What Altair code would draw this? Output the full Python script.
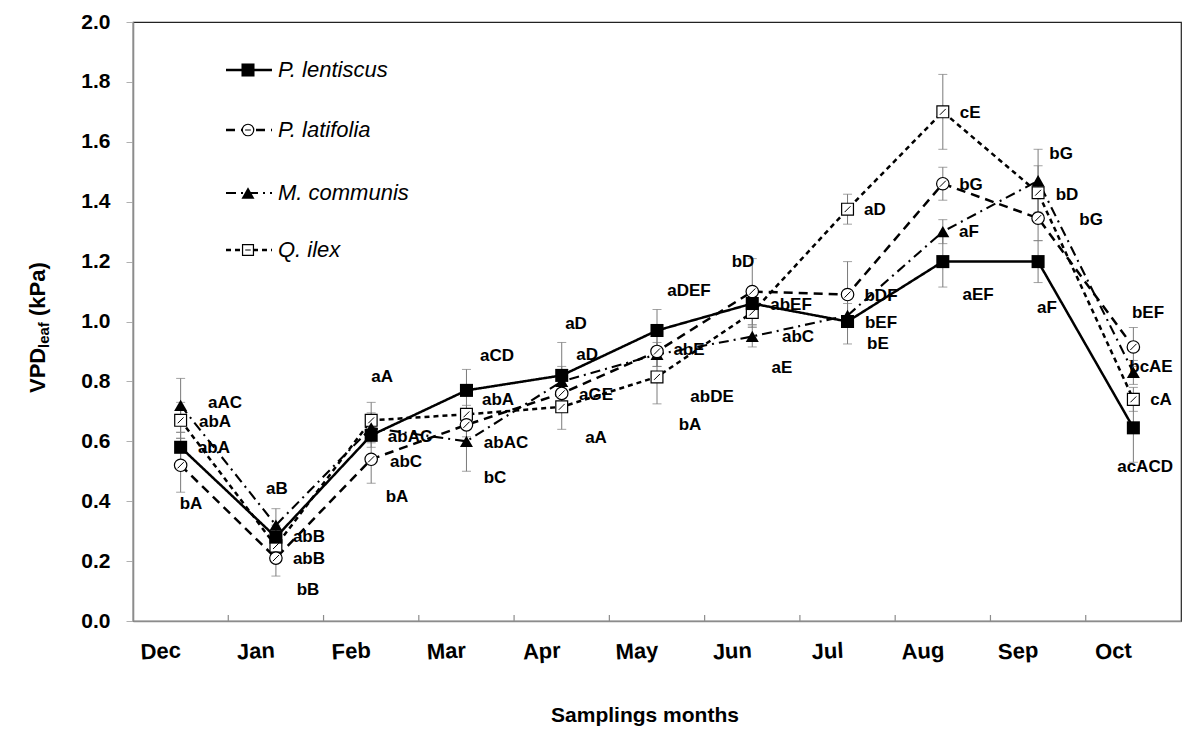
import altair as alt
import pandas as pd

# ---------------- data ----------------
months = ["Dec", "Jan", "Feb", "Mar", "Apr", "May", "Jun", "Jul", "Aug", "Sep", "Oct"]
series_names = ["P. lentiscus", "P. latifolia", "M. communis", "Q. ilex"]

lentiscus = [0.58, 0.28, 0.62, 0.77, 0.82, 0.97, 1.06, 1.00, 1.20, 1.20, 0.645]
latifolia = [0.52, 0.21, 0.54, 0.655, 0.76, 0.90, 1.10, 1.09, 1.46, 1.345, 0.915]
communis = [0.72, 0.32, 0.645, 0.60, 0.80, 0.89, 0.95, 1.02, 1.30, 1.47, 0.83]
ilex = [0.67, 0.25, 0.67, 0.69, 0.715, 0.815, 1.03, 1.375, 1.70, 1.43, 0.74]

lentiscus_err = [0.05, 0.04, 0.04, 0.07, 0.11, 0.07, 0.04, 0.075, 0.085, 0.07, 0.115]
latifolia_err = [0.09, 0.06, 0.08, 0.04, 0.05, 0.05, 0.11, 0.11, 0.055, 0.075, 0.065]
communis_err = [0.09, 0.055, 0.05, 0.10, 0.05, 0.04, 0.035, 0.04, 0.04, 0.105, 0.04]
ilex_err = [0.06, 0.04, 0.06, 0.03, 0.075, 0.09, 0.05, 0.05, 0.125, 0.09, 0.04]

# significance letters: text, x position (month index units), y value
label_text = [
    "aAC", "abA", "abA", "bA",
    "aB", "abB", "abB", "bB",
    "aA", "abAC", "abC", "bA",
    "aCD", "abA", "abAC", "bC",
    "aD", "aD", "aGE", "aA",
    "aDEF", "abE", "abDE", "bA",
    "bD", "abEF", "abC", "aE",
    "aD", "bDF", "bEF", "bE",
    "cE", "bG", "aF", "aEF",
    "bG", "bD", "bG", "aF",
    "bEF", "bcAE", "cA", "acACD",
]
label_x = [
    0.466, 0.361, 0.350, 0.109,
    1.011, 1.347, 1.347, 1.337,
    2.114, 2.408, 2.366, 2.271,
    3.321, 3.331, 3.415, 3.300,
    4.150, 4.266, 4.360, 4.360,
    5.336, 5.336, 5.578, 5.347,
    5.903, 6.407, 6.480, 6.312,
    7.288, 7.351, 7.351, 7.319,
    8.286, 8.296, 8.275, 8.370,
    9.241, 9.304, 9.556, 9.094,
    10.154, 10.185, 10.290, 10.123,
]
label_y = [
    0.728, 0.664, 0.578, 0.391,
    0.441, 0.280, 0.207, 0.104,
    0.815, 0.614, 0.531, 0.414,
    0.885, 0.738, 0.594, 0.477,
    0.992, 0.888, 0.755, 0.611,
    1.102, 0.905, 0.748, 0.654,
    1.199, 1.055, 0.948, 0.845,
    1.372, 1.085, 0.995, 0.925,
    1.696, 1.456, 1.299, 1.088,
    1.559, 1.422, 1.339, 1.045,
    1.028, 0.848, 0.738, 0.514,
]

y_ticks = [0.0, 0.2, 0.4, 0.6, 0.8, 1.0, 1.2, 1.4, 1.6, 1.8, 2.0]

# ---------------- build tables ----------------
series_vals = [lentiscus, latifolia, communis, ilex]
series_errs = [lentiscus_err, latifolia_err, communis_err, ilex_err]

frames = []
for name, vals, errs in zip(series_names, series_vals, series_errs):
    frames.append(pd.DataFrame({
        "series": name,
        "month": months,
        "pos": list(range(len(months))),
        "value": vals,
        "lo": [v - e for v, e in zip(vals, errs)],
        "hi": [v + e for v, e in zip(vals, errs)],
    }))
labels_df = pd.DataFrame({"text": label_text, "lx": label_x, "ly": label_y})
bounds_df = pd.DataFrame({"b": [i + 0.5 for i in range(len(months) - 1)]})

# ---------------- styling ----------------
FONT = "Liberation Sans"
W, H = 1048, 599
AXIS_GRAY = "#8c8c8c"

styles = {
    "P. lentiscus": dict(dash=[1, 0], shape="square", filled=True, size=170, width=2.5),
    "P. latifolia": dict(dash=[9, 6], shape="circle", filled=False, size=155, width=2.5),
    "M. communis": dict(dash=[10, 5, 2, 5], shape="triangle-up", filled=True, size=170, width=2.1),
    "Q. ilex": dict(dash=[5, 4], shape="square", filled=False, size=140, width=2.5),
}

month_js = "[" + ",".join("'" + m + "'" for m in months) + "]"
xscale = alt.Scale(domain=[-0.5, len(months) - 0.5], nice=False, zero=False)
yscale = alt.Scale(domain=[0, 2], nice=False)

xaxis = alt.Axis(
    values=list(range(len(months))), labelExpr=month_js + "[datum.value]",
    labelOffset=-21, tickSize=0, domainColor=AXIS_GRAY, domainWidth=1.6,
    labelFont=FONT, labelFontSize=22, labelFontWeight="bold", labelColor="black",
    labelPadding=20, labelAngle=-3, labelAlign="center", labelBaseline="top",
    grid=False, title=None,
)
yaxis = alt.Axis(
    values=y_ticks, format=".1f", tickSize=7, tickColor="#b0b0b0", tickWidth=1,
    domainColor=AXIS_GRAY, domainWidth=1.6, labelFont=FONT, labelFontSize=21,
    labelFontWeight="bold", labelColor="black", labelPadding=16, grid=False, title=None,
)

X = alt.X("pos:Q", scale=xscale, axis=xaxis)

layers = []

# inward x-axis ticks at category boundaries
layers.append(
    alt.Chart(bounds_df).mark_rule(color=AXIS_GRAY, strokeWidth=1.2).encode(
        x=alt.X("b:Q", scale=xscale, axis=xaxis),
        y=alt.value(H - 6), y2=alt.value(H),
    )
)

# error bars
for df in frames:
    base = alt.Chart(df)
    layers.append(base.mark_rule(color="#7a7a7a", strokeWidth=1).encode(
        x=X, y=alt.Y("lo:Q", scale=yscale, axis=yaxis), y2="hi:Q"))
    for col in ["lo", "hi"]:
        layers.append(base.mark_tick(color="#7a7a7a", orient="horizontal", size=9, thickness=1).encode(
            x=X, y=alt.Y(col + ":Q", scale=yscale, axis=yaxis)))

# lines
draw_order = ["Q. ilex", "M. communis", "P. latifolia", "P. lentiscus"]
for name in draw_order:
    df = frames[series_names.index(name)]
    st = styles[name]
    layers.append(alt.Chart(df).mark_line(color="black", strokeWidth=st["width"], strokeDash=st["dash"]).encode(
        x=X, y=alt.Y("value:Q", scale=yscale, axis=yaxis), order="pos:Q"))

# markers
for name in draw_order:
    df = frames[series_names.index(name)]
    st = styles[name]
    if st["filled"]:
        mk = alt.Chart(df).mark_point(shape=st["shape"], size=st["size"], filled=True, color="black", opacity=1)
    else:
        mk = alt.Chart(df).mark_point(shape=st["shape"], size=st["size"], filled=True, color="white",
                                      stroke="black", strokeWidth=1.2, opacity=1)
    layers.append(mk.encode(x=X, y=alt.Y("value:Q", scale=yscale, axis=yaxis)))
    if not st["filled"]:
        layers.append(alt.Chart(df).mark_point(shape="M-0.55,0.55L0.55,-0.55", size=st["size"] * 0.8,
                                               filled=False, color="black", strokeWidth=1, opacity=1).encode(
            x=X, y=alt.Y("value:Q", scale=yscale, axis=yaxis)))

# letters
layers.append(alt.Chart(labels_df).mark_text(font=FONT, fontSize=17, fontWeight="bold", color="black",
                                             align="center", baseline="middle").encode(
    x=alt.X("lx:Q", scale=xscale, axis=xaxis),
    y=alt.Y("ly:Q", scale=yscale, axis=yaxis),
    text="text:N",
))

# legend (manual, inside plot)
one = pd.DataFrame({"k": [0]})
leg_rows = [48, 108, 171, 228]
for name, ly in zip(series_names, leg_rows):
    st = styles[name]
    layers.append(alt.Chart(one).mark_rule(color="black", strokeWidth=st["width"], strokeDash=st["dash"]).encode(
        x=alt.value(93), x2=alt.value(139), y=alt.value(ly)))
    if st["filled"]:
        mk = alt.Chart(one).mark_point(shape=st["shape"], size=st["size"], filled=True, color="black", opacity=1)
    else:
        mk = alt.Chart(one).mark_point(shape=st["shape"], size=st["size"] * 0.85, filled=True, color="white",
                                       stroke="black", strokeWidth=1.2, opacity=1)
    layers.append(mk.encode(x=alt.value(115), y=alt.value(ly)))
    if not st["filled"]:
        layers.append(alt.Chart(one).mark_point(shape="M-0.6,0L0.6,0", size=st["size"] * 0.6, filled=False,
                                                color="black", strokeWidth=1, opacity=1).encode(
            x=alt.value(115), y=alt.value(ly)))
    layers.append(alt.Chart(pd.DataFrame({"t": [name]})).mark_text(
        font=FONT, fontSize=22, fontStyle="italic", color="black", align="left", baseline="middle").encode(
        x=alt.value(145), y=alt.value(ly), text="t:N"))

# axis titles
layers.append(alt.Chart(pd.DataFrame({"t": ["Samplings months"]})).mark_text(
    font=FONT, fontSize=21, fontWeight="bold", color="black", align="center", baseline="middle").encode(
    x=alt.value(W / 2 - 12), y=alt.value(694), text="t:N"))

ytitle_parts = [("VPD", 22, 0, 371), ("leaf", 15, 6, 326), ("(kPa)", 22, 0, 294)]
for txt, fs, dx, yy in ytitle_parts:
    layers.append(alt.Chart(pd.DataFrame({"t": [txt]})).mark_text(
        font=FONT, fontSize=fs, fontWeight="bold", color="black", align="left", baseline="middle",
        angle=270).encode(x=alt.value(-95 + dx), y=alt.value(yy), text="t:N"))

chart = alt.layer(*layers).properties(
    width=W, height=H,
    autosize=alt.AutoSizeParams(type="none"),
    padding={"left": 125, "top": 14, "right": 11, "bottom": 113},
    background="white",
).configure_view(stroke="#222", strokeWidth=1.2)

chart.save("out.html", embed_options={"renderer": "svg", "actions": False})
